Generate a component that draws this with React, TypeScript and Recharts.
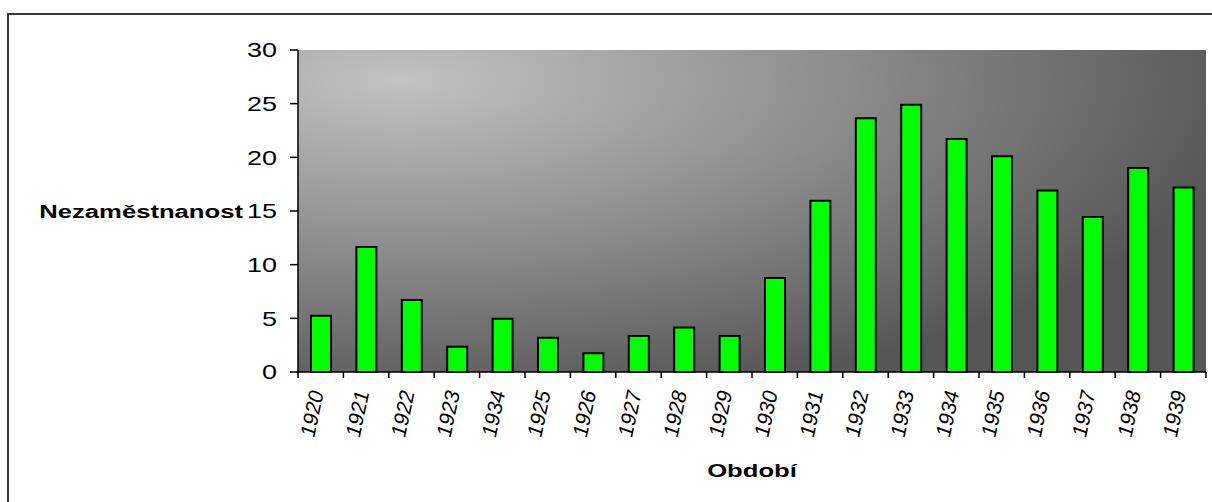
import { Bar, BarChart, CartesianGrid, XAxis, YAxis } from 'recharts';

const years = ['1920', '1921', '1922', '1923', '1934', '1925', '1926', '1927', '1928', '1929',
    '1930', '1931', '1932', '1933', '1934', '1935', '1936', '1937', '1938', '1939'];

const unemployment = [5.25, 11.65, 6.7, 2.35, 4.95, 3.2, 1.75, 3.35, 4.15, 3.35,
    8.75, 15.95, 23.65, 24.9, 21.7, 20.1, 16.9, 14.45, 19.0, 17.2];

const yTicks = [0, 5, 10, 15, 20, 25, 30];

const data = years.map((year, i) => ({ i, year, value: unemployment[i] }));

const FONT = '"Liberation Sans", Arial, sans-serif';
const STRETCH = 1.35;
const BAND = 908 / years.length;

const YTick = ({ x, y, payload }: any) => (
    <text transform={`translate(${x},${y}) scale(${STRETCH},1)`} textAnchor="end" dy="0.36em"
        fontFamily={FONT} fontSize={20} fill="#000">
        {payload.value}
    </text>
);

const XTick = ({ x, y, payload, index }: any) => {
    const left = x - BAND / 2;
    return (
        <g>
            <line x1={left} y1={y} x2={left} y2={y + 6} stroke="#000" strokeWidth={1.5} />
            {index === years.length - 1 &&
                <line x1={x + BAND / 2} y1={y} x2={x + BAND / 2} y2={y + 6} stroke="#000" strokeWidth={1.5} />}
            <text transform={`translate(${x + 3},${y + 21}) rotate(-78) skewX(-8)`} textAnchor="end"
                fontFamily={FONT} fontSize={21} fill="#000">
                {years[payload.value]}
            </text>
        </g>
    );
};

const YLabel = ({ viewBox }: any) => (
    <text transform={`translate(${viewBox.x + 5},${viewBox.y + viewBox.height / 2}) scale(${STRETCH},1)`}
        textAnchor="end" dy="0.36em" fontFamily={FONT} fontSize={19} fontWeight="bold" fill="#000">
        Nezaměstnanost
    </text>
);

const XLabel = ({ viewBox }: any) => (
    <text transform={`translate(${viewBox.x + viewBox.width / 2},${viewBox.y + 105}) scale(${STRETCH},1)`}
        textAnchor="middle" fontFamily={FONT} fontSize={19} fontWeight="bold" fill="#000">
        Období
    </text>
);

export default function App() {
    return (
        <div style={{ position: 'fixed', left: 0, top: 0, width: 1212, height: 502, overflow: 'hidden', background: '#fff' }}>
            <div style={{
                position: 'absolute', left: 7, top: 13, width: 1400, height: 700,
                borderTop: '2px solid #3a3a3a', borderLeft: '2px solid #3a3a3a'
            }} />
            <div style={{ position: 'absolute', left: 0, top: 0 }}>
                <BarChart width={1212} height={502} data={data}
                    margin={{ top: 50, right: 6, left: 238, bottom: 60 }} barSize={20}>
                    <defs>
                        <radialGradient id="plotBg" gradientUnits="userSpaceOnUse" cx={0} cy={0} r={1}
                            gradientTransform="translate(400,80) scale(860,330)">
                            <stop offset="0" stopColor="#c2c2c2" />
                            <stop offset="0.5" stopColor="#8e8e8e" />
                            <stop offset="1" stopColor="#565656" />
                        </radialGradient>
                    </defs>
                    <CartesianGrid horizontal={false} vertical={false} fill="url(#plotBg)" fillOpacity={1} />
                    <XAxis xAxisId="top" dataKey="i" orientation="top" height={0} tick={false} tickLine={false}
                        axisLine={{ stroke: '#a6a6a6', strokeWidth: 2 }} />
                    <YAxis yAxisId="right" orientation="right" width={0} domain={[0, 30]} tick={false} tickLine={false}
                        axisLine={{ stroke: '#a6a6a6', strokeWidth: 2 }} />
                    <XAxis dataKey="i" type="category" height={70} interval={0} tickSize={0} tickMargin={0}
                        tickLine={false} axisLine={{ stroke: '#000', strokeWidth: 1.5 }}
                        tick={<XTick />} label={<XLabel />} />
                    <YAxis domain={[0, 30]} ticks={yTicks} width={60} tickSize={8} tickMargin={13}
                        axisLine={{ stroke: '#000', strokeWidth: 1.5 }} tickLine={{ stroke: '#000', strokeWidth: 1.5 }}
                        tick={<YTick />} label={<YLabel />} />
                    <Bar dataKey="value" fill="#00ff00" stroke="#000" strokeWidth={2} isAnimationActive={false} />
                </BarChart>
            </div>
        </div>
    );
}
